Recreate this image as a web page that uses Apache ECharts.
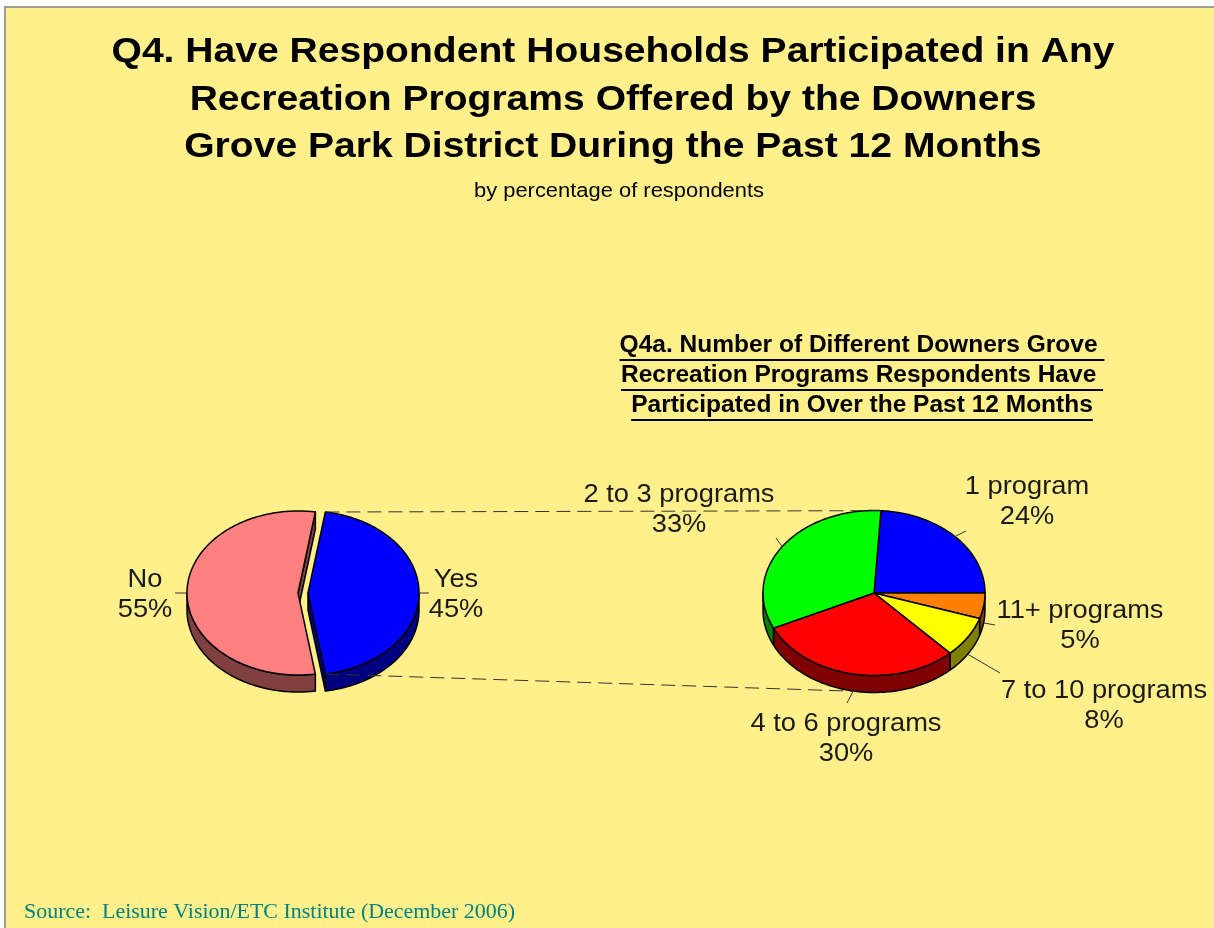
<!DOCTYPE html>
<html>
<head>
<meta charset="utf-8">
<script src="https://cdn.jsdelivr.net/npm/echarts@6/dist/echarts.min.js"></script>
<style>
html,body{margin:0;padding:0;background:#ffffff;}
#chart{width:1214px;height:928px;}
</style>
</head>
<body>
<div id="chart"></div>
<script>
// ---------------- data ----------------
const titleLines = [
  'Q4. Have Respondent Households Participated in Any',
  'Recreation Programs Offered by the Downers',
  'Grove Park District During the Past 12 Months'
];
const subtitleText = 'by percentage of respondents';
const innerTitleLines = [
  'Q4a. Number of Different Downers Grove ',
  'Recreation Programs Respondents Have ',
  'Participated in Over the Past 12 Months'
];
const sourceText = 'Source:  Leisure Vision/ETC Institute (December 2006)';

const mainCategories = ['Yes', 'No'];
const mainValues = [45, 55];

const subCategories = ['1 program', '11+ programs', '7 to 10 programs', '4 to 6 programs', '2 to 3 programs'];
const subValues = [24, 5, 8, 30, 33];

// ---------------- layout / style ----------------
const FONT = "'Liberation Sans', Arial, Helvetica, sans-serif";
const SERIF = "'Liberation Serif', 'Times New Roman', Times, serif";
const BG = '#FFF08C';

const mctx = document.createElement('canvas').getContext('2d');
function textWidth(t, size, family, weight) {
  mctx.font = (weight || 'normal') + ' ' + size + 'px ' + family;
  return mctx.measureText(t).width;
}
const TITLE_SIZE = 35, SUB_SIZE = 20, INNER_SIZE = 23, LABEL_SIZE = 26, SOURCE_SIZE = 21;
const titleScale = 1003 / textWidth(titleLines[0], TITLE_SIZE, FONT, 'bold');
const subScale = 290 / textWidth(subtitleText, SUB_SIZE, FONT);
const innerScale = 478 / textWidth(innerTitleLines[0].trim(), INNER_SIZE, FONT, 'bold');
const labelScale = 191 / textWidth('2 to 3 programs', LABEL_SIZE, FONT);
const sourceScale = 491 / textWidth(sourceText, SOURCE_SIZE, SERIF);
const LABEL_DY = 3;

const leftPie = {
  cx: 303, cy: 593, rx: 111, ry: 82, depth: 17, explode: 5, start: -81,
  colors: ['#0000FF', '#FF8080'],
  walls: ['#000080', '#804040'],
  labelAt: [[153, -1], [-158, -1]],
  leaderEnd: [[126, 0], [-128, 0]]
};
const rightPie = {
  cx: 874, cy: 593, rx: 111, ry: 82.5, depth: 17, explode: 0, start: -86.4,
  colors: ['#0000FF', '#FF8000', '#FFFF00', '#FF0000', '#00FF00'],
  walls: ['#000080', '#804000', '#808000', '#800000', '#008000'],
  labelAt: [[153, -94], [206, 30], [230, 110], [-28, 143], [-195, -86]],
  leaderEnd: [[92, -62], [121, 32], [126, 80], [-27, 110], [-98, -55]]
};

function sliceAngles(values, cfg) {
  const total = values.reduce((a, b) => a + b, 0);
  let acc = cfg.start * Math.PI / 180;
  return values.map(v => { const a0 = acc; acc += v / total * Math.PI * 2; return [a0, acc]; });
}
function ell(cfg, ox, oy, t, dy) {
  return [ox + cfg.rx * Math.cos(t), oy + cfg.ry * Math.sin(t) + (dy || 0)];
}
function arcPts(cfg, ox, oy, t0, t1, dy) {
  const n = Math.max(2, Math.ceil(Math.abs(t1 - t0) / (Math.PI / 180)));
  const pts = [];
  for (let k = 0; k <= n; k++) pts.push(ell(cfg, ox, oy, t0 + (t1 - t0) * k / n, dy));
  return pts;
}

function pieSeries(cats, values, cfg) {
  const angles = sliceAngles(values, cfg);
  return {
    type: 'custom',
    coordinateSystem: 'none',
    z: 3,
    silent: true,
    animation: false,
    data: values.map((v, i) => ({ name: cats[i], value: v })),
    renderItem: function (params, api) {
      const i = params.dataIndex;
      const v = api.value(0);
      const a0 = angles[i][0], a1 = angles[i][1];
      const mid = (a0 + a1) / 2;
      const ox = cfg.cx + cfg.explode * Math.cos(mid);
      const oy = cfg.cy + cfg.explode * Math.sin(mid) * cfg.ry / cfg.rx;
      const edge = { stroke: '#000000', lineWidth: 1.5, lineJoin: 'round' };
      const children = [];
      // outer side wall (front half only)
      for (let k = -1; k <= 2; k++) {
        const s = Math.max(a0, 2 * Math.PI * k), e = Math.min(a1, 2 * Math.PI * k + Math.PI);
        if (e > s + 1e-6) {
          const pts = arcPts(cfg, ox, oy, s, e, 0).concat(arcPts(cfg, ox, oy, e, s, cfg.depth));
          children.push({ type: 'polygon', z2: 1, shape: { points: pts }, style: Object.assign({ fill: cfg.walls[i] }, edge) });
        }
      }
      // radial cut faces for exploded pies
      if (cfg.explode > 0) {
        [[a0, -Math.cos(a0)], [a1, Math.cos(a1)]].forEach(function (f) {
          if (f[1] > 0) {
            const p = ell(cfg, ox, oy, f[0]);
            children.push({ type: 'polygon', z2: 1,
              shape: { points: [[ox, oy], p, [p[0], p[1] + cfg.depth], [ox, oy + cfg.depth]] },
              style: Object.assign({ fill: cfg.walls[i] }, edge) });
          }
        });
      }
      // top face
      children.push({ type: 'polygon', z2: 5,
        shape: { points: [[ox, oy]].concat(arcPts(cfg, ox, oy, a0, a1, 0)) },
        style: Object.assign({ fill: cfg.colors[i] }, edge) });
      // leader line
      const rim = ell(cfg, ox, oy, mid, Math.sin(mid) > 0.05 ? cfg.depth : 0);
      const le = cfg.leaderEnd[i];
      children.push({ type: 'line', z2: 8,
        shape: { x1: rim[0], y1: rim[1], x2: cfg.cx + le[0], y2: cfg.cy + le[1] },
        style: { stroke: '#333333', lineWidth: 1 } });
      // label
      const la = cfg.labelAt[i];
      children.push({ type: 'text', z2: 10, x: cfg.cx + la[0], y: cfg.cy + la[1] + LABEL_DY, scaleX: labelScale,
        style: { text: cats[i] + '\n' + v + '%', x: 0, y: 0, fontSize: LABEL_SIZE, fontFamily: FONT,
          fill: '#1a1a1a', align: 'center', verticalAlign: 'middle', lineHeight: 30 } });
      return { type: 'group', children: children };
    }
  };
}

// connectors between the "Yes" slice and the breakdown pie
const leftAngles = sliceAngles(mainValues, leftPie);
const yesMid = (leftAngles[0][0] + leftAngles[0][1]) / 2;
const yesOx = leftPie.cx + leftPie.explode * Math.cos(yesMid);
const yesOy = leftPie.cy + leftPie.explode * Math.sin(yesMid) * leftPie.ry / leftPie.rx;
const cTop0 = ell(leftPie, yesOx, yesOy, leftAngles[0][0]);
const cBot0 = ell(leftPie, yesOx, yesOy, leftAngles[0][1]);
const cTop1 = ell(rightPie, rightPie.cx, rightPie.cy, rightPie.start * Math.PI / 180);
const cBot1 = ell(rightPie, rightPie.cx, rightPie.cy, 100 * Math.PI / 180, rightPie.depth);

const graphics = [];
graphics.push({ type: 'rect', z: 0, shape: { x: 5, y: 7, width: 1214, height: 925 },
  style: { fill: BG, stroke: '#808080', lineWidth: 1.5 } });
const titleY = [52.5, 100, 147.5];
titleLines.forEach((t, i) => graphics.push({ type: 'text', z: 5, x: 613, y: titleY[i], scaleX: titleScale,
  style: { text: t, fontSize: TITLE_SIZE, fontWeight: 'bold', fontFamily: FONT, fill: '#000', align: 'center', verticalAlign: 'middle' } }));
graphics.push({ type: 'text', z: 5, x: 619, y: 191.5, scaleX: subScale,
  style: { text: subtitleText, fontSize: SUB_SIZE, fontFamily: FONT, fill: '#000', align: 'center', verticalAlign: 'middle' } });
const INNER_CX = 862;
const innerY = [346, 376, 406];
const underY = [360, 390, 420];
innerTitleLines.forEach((t, i) => {
  graphics.push({ type: 'text', z: 5, x: INNER_CX, y: innerY[i], scaleX: innerScale,
    style: { text: t, fontSize: INNER_SIZE, fontWeight: 'bold', fontFamily: FONT, fill: '#000', align: 'center', verticalAlign: 'middle' } });
  const w = textWidth(t, INNER_SIZE, FONT, 'bold') * innerScale;
  graphics.push({ type: 'line', z: 5, shape: { x1: INNER_CX - w / 2, y1: underY[i], x2: INNER_CX + w / 2, y2: underY[i] },
    style: { stroke: '#000', lineWidth: 2 } });
});
graphics.push({ type: 'text', z: 5, x: 24, y: 912, scaleX: sourceScale,
  style: { text: sourceText, fontSize: SOURCE_SIZE, fontFamily: SERIF, fill: '#008080', align: 'left', verticalAlign: 'middle' } });
graphics.push({ type: 'line', z: 4, shape: { x1: cTop0[0], y1: cTop0[1], x2: cTop1[0], y2: cTop1[1] },
  style: { stroke: '#333', lineWidth: 1, lineDash: [14, 7] } });
graphics.push({ type: 'line', z: 4, shape: { x1: cBot0[0], y1: cBot0[1], x2: cBot1[0], y2: cBot1[1] },
  style: { stroke: '#333', lineWidth: 1, lineDash: [14, 7] } });

const chart = echarts.init(document.getElementById('chart'), null, { renderer: 'canvas' });
chart.setOption({
  backgroundColor: '#ffffff',
  animation: false,
  graphic: { elements: graphics },
  series: [pieSeries(mainCategories, mainValues, leftPie), pieSeries(subCategories, subValues, rightPie)]
});
</script>
</body>
</html>
